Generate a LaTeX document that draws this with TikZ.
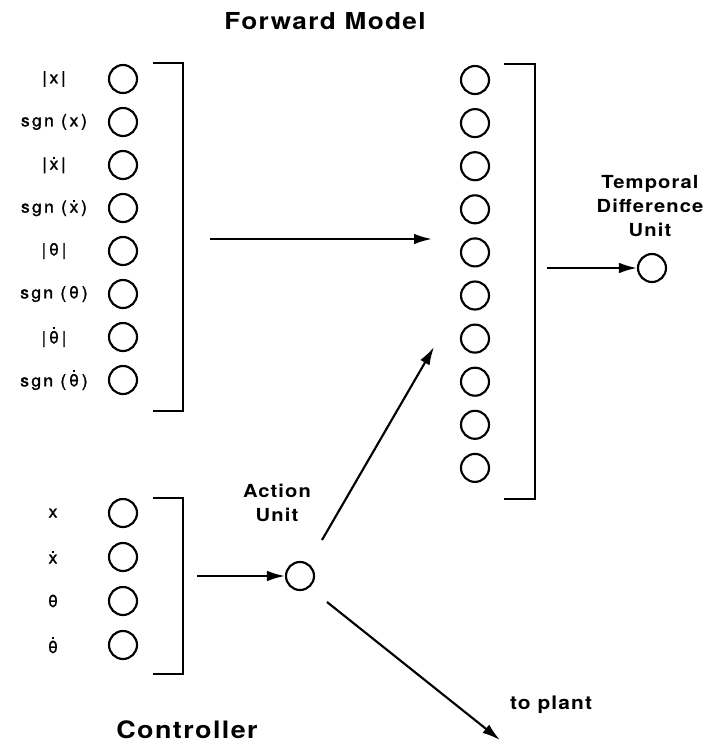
\documentclass[tikz,border=0pt]{standalone}
\usepackage{fontspec}
\usetikzlibrary{arrows.meta}
\newfontfamily\hvlab[LetterSpace=14,FakeStretch=1.05,FakeBold=1.6]{TeX Gyre Heros}
\newfontfamily\hvbold[LetterSpace=6,FakeStretch=1.12]{TeX Gyre Heros Bold}
\newcommand\dt[1]{\leavevmode\setbox0=\hbox{#1}\rlap{\hbox to\wd0{\hss\raisebox{\dimexpr\ht0+1.4pt\relax}{\rule{1.6pt}{1.6pt}}\hss}}\box0}
\tikzset{
  unit/.style={circle,draw,line width=1.6pt,minimum size=21pt,inner sep=0pt},
  lab/.style={font=\hvlab\fontsize{12.5}{14}\selectfont,inner sep=0pt},
  ttl/.style={font=\hvbold\fontsize{13.5}{18}\selectfont,align=center,inner sep=0pt},
  big/.style={font=\hvbold\fontsize{17.5}{19}\selectfont,inner sep=0pt},
  brk/.style={line width=1.7pt},
  arr/.style={line width=1.6pt,-{Latex[length=13.5pt,width=8pt]}},
}
\begin{document}
\begin{tikzpicture}[x=0.75pt,y=-0.75pt]
\useasboundingbox (0,0) rectangle (709,743);
% Forward model inputs
\node[big] (fm) at (325,21) {Forward Model};
\foreach \i/\t in {1/{|\,x\,|},2/{sgn (\,x\,)},3/{|\,\dt{x}\,|},4/{sgn (\,\dt{x}\,)},5/{|\,θ\,|},6/{sgn (\,θ\,)},7/{|\,\dt{θ}\,|},8/{sgn (\,\dt{θ}\,)}}{
  \node[unit] (L\i) at (123,{79+43*(\i-1)}) {};
  \node[lab] (Lt\i) at (54,{79+43*(\i-1)}) {\t};
}
\coordinate (b1a) at (153,63);
\coordinate (b1b) at (183,63);
\coordinate (b1c) at (183,411);
\coordinate (b1d) at (153,411);
\draw[brk] (b1a) -- (b1b) -- (b1c) -- (b1d);
% hidden layer
\foreach \i in {1,...,10}{
  \node[unit] (M\i) at (475,{80+43.1*(\i-1)}) {};
}
\coordinate (b2a) at (504,64);
\coordinate (b2b) at (535,64);
\coordinate (b2c) at (535,499);
\coordinate (b2d) at (504,499);
\draw[brk] (b2a) -- (b2b) -- (b2c) -- (b2d);
\coordinate (a1s) at (210,239);
\coordinate (a1e) at (432,239);
\draw[arr] (a1s) -- (a1e);
% temporal difference unit
\node[unit] (td) at (652,268) {};
\node[ttl] (tdl) at (650,206) {Temporal\\Difference\\Unit};
\coordinate (a2s) at (547,268);
\draw[arr] (a2s) -- (td);
% controller
\foreach \i/\t in {1/x,2/{\dt{x}},3/θ,4/{\dt{θ}}}{
  \node[unit] (C\i) at (123,{513+44*(\i-1)}) {};
  \node[lab] (Ct\i) at (53,{513+44*(\i-1)}) {\t};
}
\coordinate (b3a) at (153,498);
\coordinate (b3b) at (183,498);
\coordinate (b3c) at (183,674);
\coordinate (b3d) at (153,674);
\draw[brk] (b3a) -- (b3b) -- (b3c) -- (b3d);
\node[unit] (act) at (300,576) {};
\node[ttl] (actl) at (277,503) {Action\\Unit};
\coordinate (a3s) at (197,576);
\draw[arr] (a3s) -- (act);
\coordinate (a4s) at (322,540);
\coordinate (a4e) at (434,347);
\draw[arr] (a4s) -- (a4e);
\coordinate (a5s) at (327,602);
\coordinate (a5e) at (500,740);
\draw[arr] (a5s) -- (a5e);
\node[ttl,font=\hvbold\fontsize{14}{16}\selectfont] (plant) at (551,705) {to plant};
\node[big,font=\hvbold\fontsize{18}{20}\selectfont] (ctl) at (187,730) {Controller};
\end{tikzpicture}
\end{document}
